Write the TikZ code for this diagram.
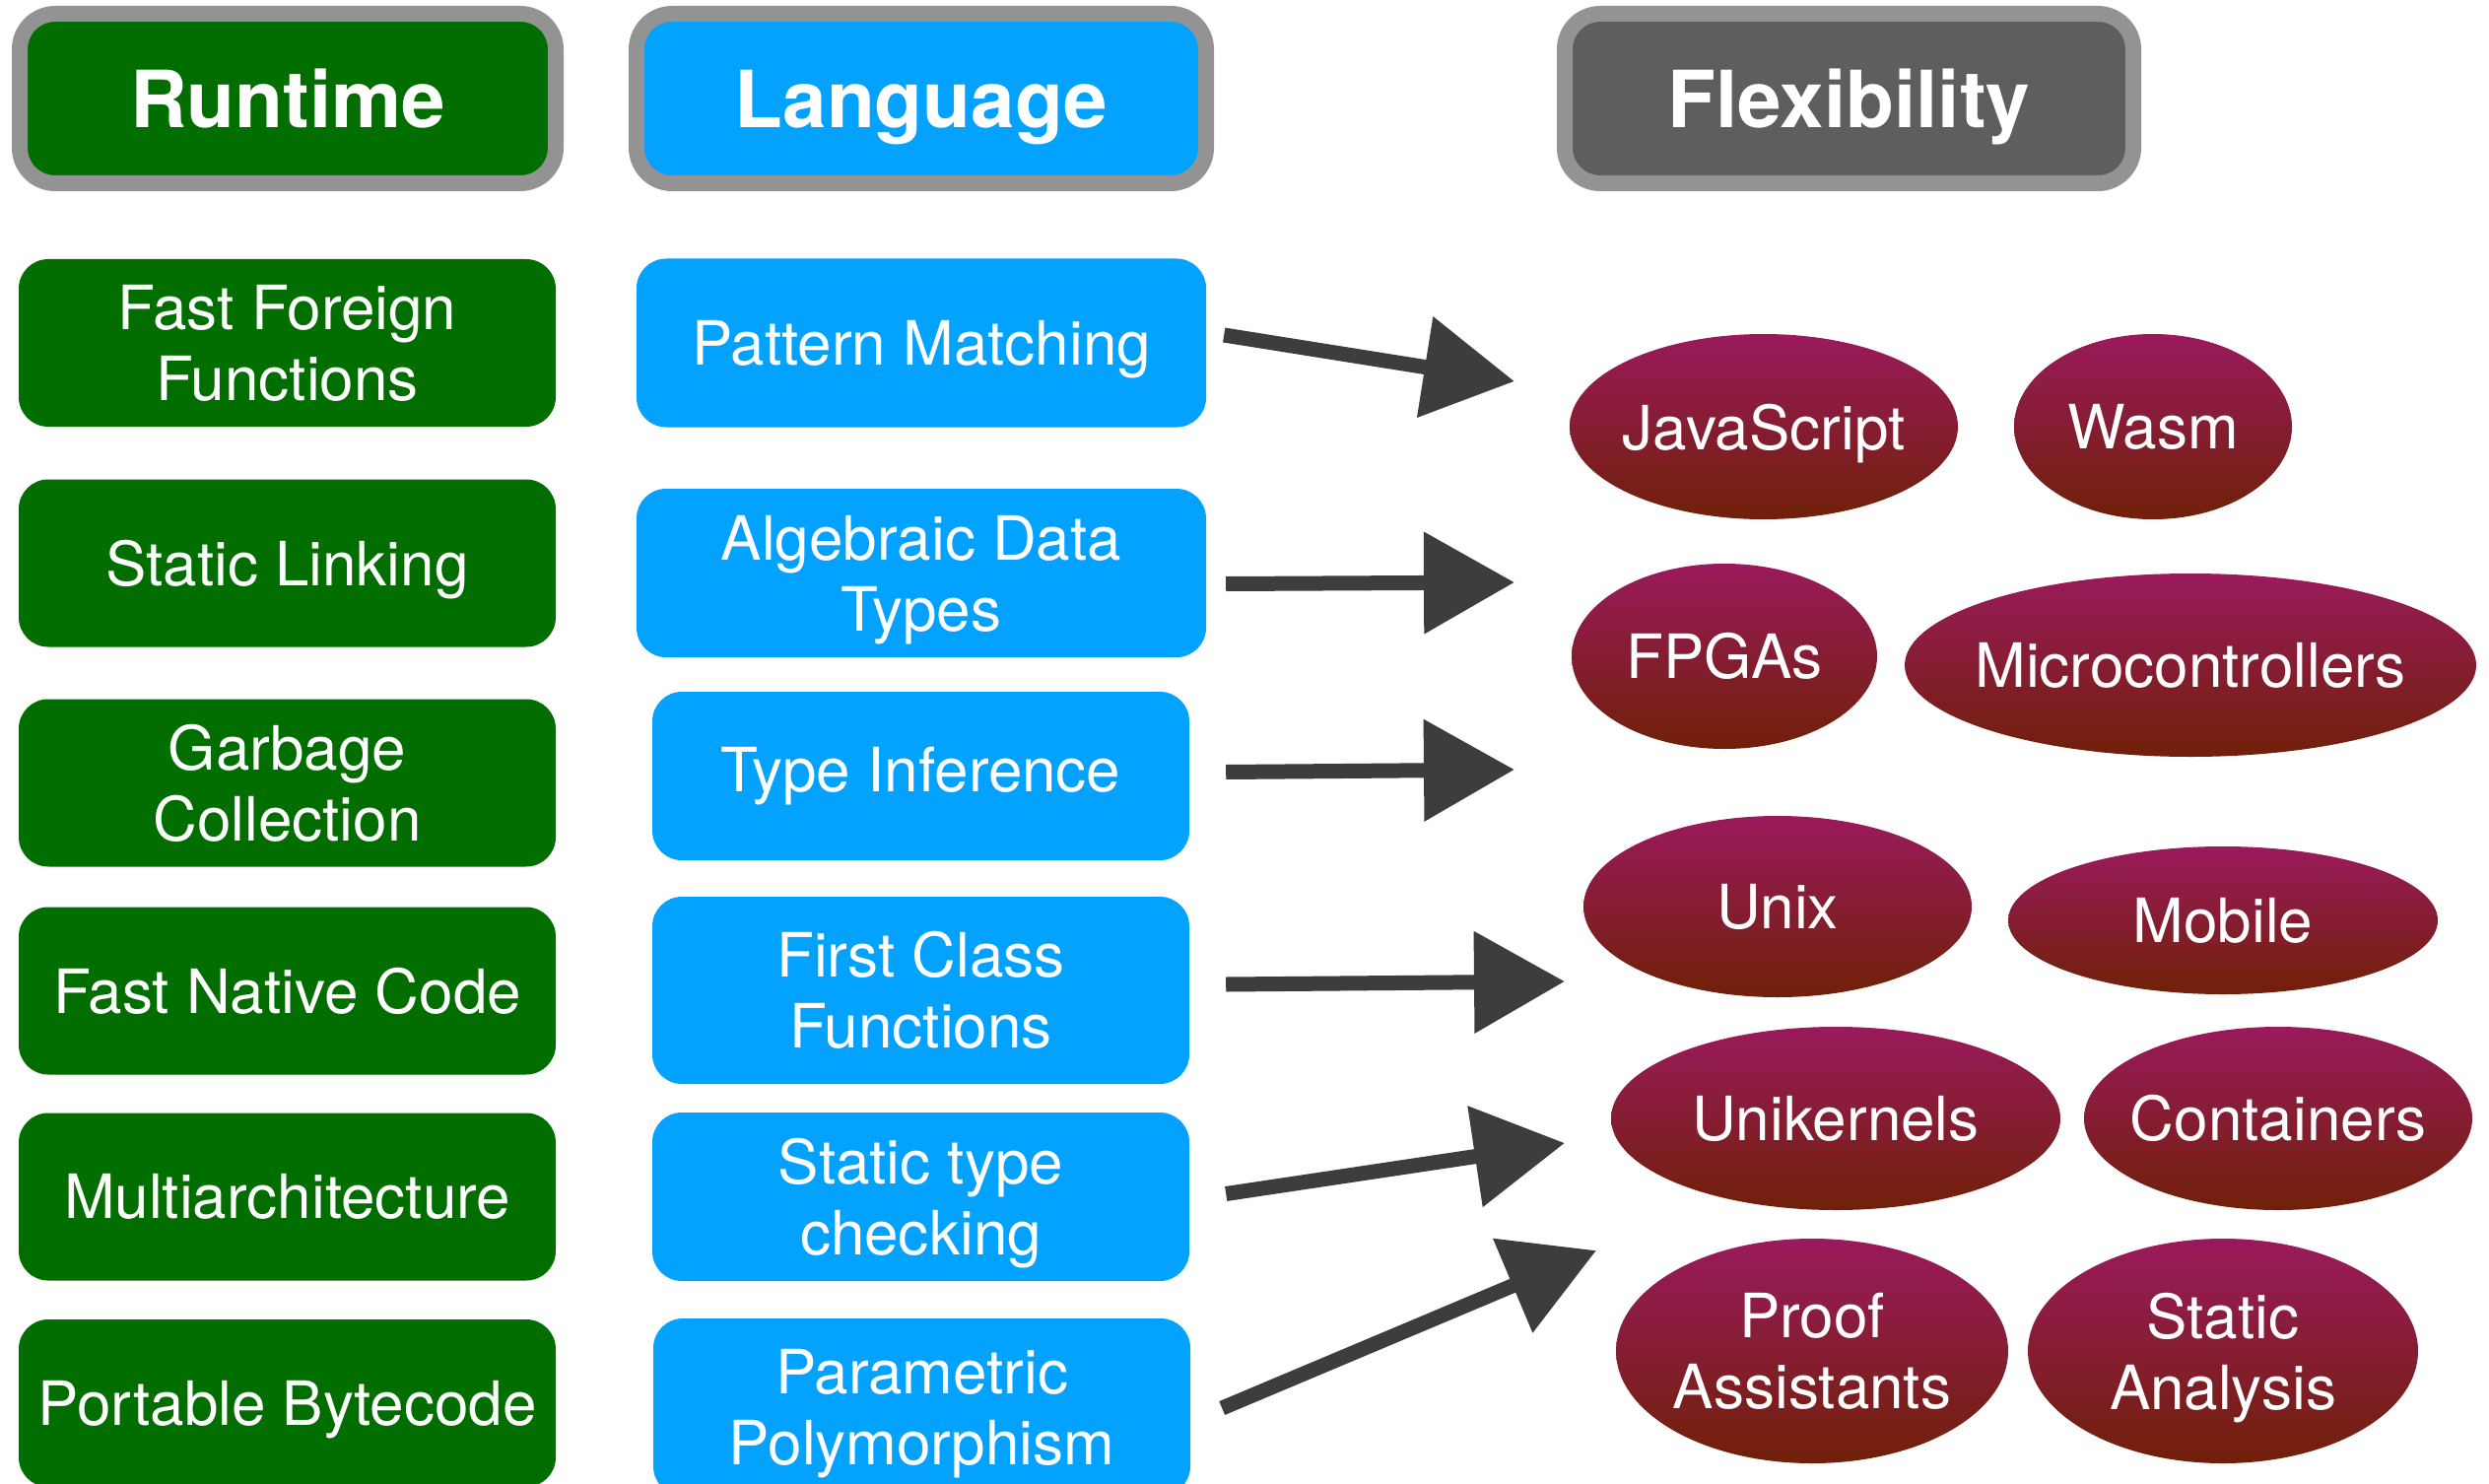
\documentclass[tikz,border=0pt]{standalone}
\usepackage{fontspec}
\setmainfont{TeX Gyre Heros}
\usetikzlibrary{shapes.geometric,arrows.meta}
\definecolor{rgreen}{RGB}{3,110,0}
\definecolor{lblue}{RGB}{4,162,255}
\definecolor{fgray}{RGB}{94,94,94}
\definecolor{bgray}{RGB}{147,147,147}
\definecolor{etop}{RGB}{154,26,92}
\definecolor{ebot}{RGB}{112,32,8}
\definecolor{arr}{RGB}{61,61,61}
\newcommand\nodep[1]{\raisebox{0pt}[\height][0pt]{#1}}
\newcommand\zw[1]{\makebox[0pt]{#1}}
\begin{document}
\begin{tikzpicture}[x=1pt,y=-1pt,
 hdr/.style={draw=bgray,line width=16pt,rounded corners=36pt,text=white,font=\fontsize{80}{90}\selectfont\bfseries,minimum height=172pt,inner sep=0pt},
 item/.style={rounded corners=30pt,text=white,font=\fontsize{62}{72}\selectfont,align=center,inner sep=0pt},
 rt/.style={item,fill=rgreen,minimum width=545pt,minimum height=170pt},
 lg/.style={item,fill=lblue,minimum height=171pt},
 plat/.style={ellipse,inner sep=0pt,top color=etop,bottom color=ebot,text=white,font=\fontsize{62}{72}\selectfont,align=center},
 sketch/.style={draw=arr,line width=15pt,-{Triangle[length=92pt,width=100pt]}}
]
\useasboundingbox[fill=white] (0,0) rectangle (2526,1506);

% headers
\node[hdr,fill=rgreen,minimum width=544pt] (hr) at (292,100) {Runtime};
\node[hdr,fill=lblue,minimum width=578pt] (hl) at (935,100) {\nodep{Language}};
\node[hdr,fill=fgray,minimum width=577pt] (hf) at (1876.5,100) {\nodep{Flexibility}};

% runtime
\node[rt] (r1) at (291.5,348) {Fast Foreign\\Functions};
\node[rt] (r2) at (291.5,571.5) {\nodep{Static Linking}};
\node[rt] (r3) at (291.5,794.5) {Garbage\\Collection};
\node[rt] (r4) at (291.5,1005.5) {Fast Native Code};
\node[rt] (r5) at (291.5,1214.5) {Multiarchitecture};
\node[rt] (r6) at (291.5,1424) {\nodep{Portable Bytecode}};

% language
\node[lg,minimum width=578pt] (pm) at (935,348) {\nodep{Pattern Matching}};
\node[lg,minimum width=578pt] (adt) at (935,581.5) {Algebraic Data\\\nodep{Types}};
\node[lg,minimum width=545pt] (ti) at (934.5,787.5) {Type Inference};
\node[lg,minimum width=545pt,minimum height=190pt] (fcf) at (934.5,1005) {First Class\\Functions};
\node[lg,minimum width=545pt] (stc) at (934.5,1214.5) {Static type\\\nodep{checking}};
\node[lg,minimum width=545pt,minimum height=180pt] (pp) at (935.5,1428) {Parametric\\\nodep{Polymorphism}};

% platforms
\node[plat,minimum width=394pt,minimum height=188pt] (js) at (1790,433) {\zw{\nodep{JavaScript}}};
\node[plat,minimum width=282pt,minimum height=188pt] (wasm) at (2185,433) {\zw{Wasm}};
\node[plat,minimum width=310pt,minimum height=188pt] (fpga) at (1750,666) {\zw{FPGAs}};
\node[plat,minimum width=580pt,minimum height=186pt] (mc) at (2223,675) {\zw{Microcontrollers}};
\node[plat,minimum width=394pt,minimum height=184pt] (unix) at (1804,920) {\zw{Unix}};
\node[plat,minimum width=436pt,minimum height=150pt] (mob) at (2256,934) {\zw{Mobile}};
\node[plat,minimum width=456pt,minimum height=186pt] (uk) at (1863,1135) {\zw{Unikernels}};
\node[plat,minimum width=394pt,minimum height=186pt] (cont) at (2312,1135) {\zw{Containers}};
\node[plat,minimum width=398pt,minimum height=228pt] (pa) at (1839,1371) {\zw{Proof}\\\zw{Assistants}};
\node[plat,minimum width=396pt,minimum height=228pt] (sa) at (2256,1371) {\zw{Static}\\\zw{\nodep{Analysis}}};

% arrow tips
\coordinate (t1) at (1537,387);
\coordinate (t2) at (1537,591);
\coordinate (t3) at (1537,781);
\coordinate (t4) at (1588,996);
\coordinate (t5) at (1588,1160);
\coordinate (t6) at (1620,1269);

\draw[sketch] ([xshift=18pt,yshift=8pt]pm.east) -- (t1);
\draw[sketch] ([xshift=20pt,yshift=-11pt]adt.east) -- (t2);
\draw[sketch] ([xshift=37pt,yshift=4pt]ti.east) -- (t3);
\draw[sketch] ([xshift=37pt,yshift=6pt]fcf.east) -- (t4);
\draw[sketch] ([xshift=37pt,yshift=3pt]stc.east) -- (t5);
\draw[sketch] ([xshift=32pt,yshift=-1pt]pp.east) -- (t6);
\end{tikzpicture}
\end{document}
